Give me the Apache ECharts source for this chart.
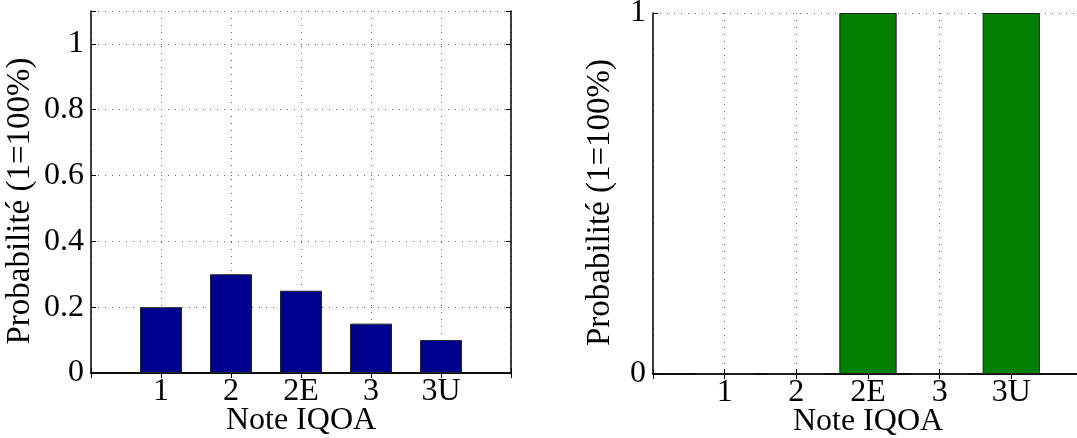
<!DOCTYPE html>
<html><head><meta charset="utf-8">
<script src="https://cdn.jsdelivr.net/npm/echarts@6/dist/echarts.min.js"></script>
<style>html,body{margin:0;padding:0;background:#fff}#c{width:1077px;height:438px}</style>
</head><body><div id="c"></div>
<script>
var categories = ['1', '2', '2E', '3', '3U'];
var leftValues = [0.2, 0.3, 0.25, 0.15, 0.1];
var rightValues = [0, 0, 1, 0, 1];
var yTicksLeft = [0, 0.2, 0.4, 0.6, 0.8, 1];
var yTicksRight = [0, 1];
var xTitle = 'Note IQOA';
var yTitle = 'Probabilité (1=100%)';

var FONT = '"Liberation Serif", "DejaVu Serif", serif';
var FS = 32;
var axisCats = [''].concat(categories, ['']);
function pad(v) { return [null].concat(v, [null]); }

function xAxes(gi) {
  return [{
    type: 'category', gridIndex: gi, data: axisCats, boundaryGap: false, position: 'bottom',
    axisLine: { lineStyle: { color: '#000', width: 1.5 } },
    axisTick: { inside: true, length: 5, lineStyle: { color: '#000' } },
    axisLabel: { color: '#000', fontFamily: FONT, fontSize: FS, margin: 3, interval: 0 },
    splitLine: { show: true, interval: 0, lineStyle: { color: '#666', type: [1, 6], width: 1 } },
    name: xTitle, nameLocation: 'middle', nameGap: 32, nameMoveOverlap: false,
    nameTextStyle: { color: '#000', fontFamily: FONT, fontSize: FS, verticalAlign: 'top' }
  }, {
    type: 'category', gridIndex: gi, data: axisCats, boundaryGap: false, position: 'top',
    axisLine: { lineStyle: { color: '#000', width: 1.5 } },
    axisTick: { inside: true, length: 5, lineStyle: { color: '#000' } },
    axisLabel: { show: false }, splitLine: { show: false }
  }];
}
function yAxes(gi, max, interval, ticks, gap) {
  var fmt = function (v) {
    for (var i = 0; i < ticks.length; i++) if (Math.abs(ticks[i] - v) < 1e-6) return String(ticks[i]);
    return '';
  };
  return [{
    type: 'value', gridIndex: gi, min: 0, max: max, interval: interval, position: 'left',
    axisLine: { show: true, lineStyle: { color: '#000', width: 1.5 } },
    axisTick: { show: true, inside: true, length: 5, lineStyle: { color: '#000' } },
    axisLabel: { color: '#000', fontFamily: FONT, fontSize: FS, margin: 7, formatter: fmt },
    splitLine: { show: true, lineStyle: { color: '#666', type: [1, 6], width: 1 } },
    name: yTitle, nameLocation: 'middle', nameGap: gap, nameRotate: 90, nameMoveOverlap: false,
    nameTextStyle: { color: '#000', fontFamily: FONT, fontSize: 33, padding: [0, 18, 0, 0] }
  }, {
    type: 'value', gridIndex: gi, min: 0, max: max, interval: interval, position: 'right',
    axisLine: { show: true, lineStyle: { color: '#000', width: 1.5 } },
    axisTick: { show: true, inside: true, length: 5, lineStyle: { color: '#000' } },
    axisLabel: { show: false }, splitLine: { show: false }
  }];
}

var chart = echarts.init(document.getElementById('c'), null, { renderer: 'canvas' });
chart.setOption({
  animation: false,
  backgroundColor: '#fff',
  textStyle: { fontFamily: FONT },
  grid: [
    { left: 91, top: 11, width: 420, height: 362, containLabel: false, outerBoundsMode: 'none' },
    { left: 653, top: 13, width: 430, height: 361, containLabel: false, outerBoundsMode: 'none' }
  ],
  xAxis: xAxes(0).concat(xAxes(1)),
  yAxis: yAxes(0, 1.1, 0.2, yTicksLeft, 54).concat(yAxes(1, 1, 1, yTicksRight, 36)),
  series: [
    { type: 'bar', xAxisIndex: 0, yAxisIndex: 0, data: pad(leftValues), barWidth: '60%',
      itemStyle: { color: '#00008F', borderColor: '#222', borderWidth: 1 } },
    { type: 'bar', xAxisIndex: 2, yAxisIndex: 2, data: pad(rightValues), barWidth: '80%',
      itemStyle: { color: '#007F00', borderColor: '#222', borderWidth: 1 } }
  ]
});
</script></body></html>
